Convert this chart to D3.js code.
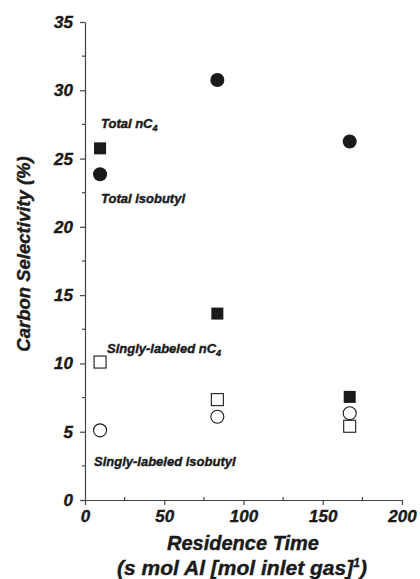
<!DOCTYPE html>
<html>
<head>
<meta charset="utf-8">
<script src="https://cdn.jsdelivr.net/npm/d3@7"></script>
<style>
  body { margin: 0; background: #fff; }
  svg text { font-family: "Liberation Sans", Arial, sans-serif; font-weight: bold; font-style: italic; fill: #1a1a1a; stroke: #1a1a1a; stroke-width: 0.4px; }
</style>
</head>
<body>
<svg id="chart" width="420" height="579"></svg>
<script>
// residence time columns
const residence = [9.5, 83.5, 167];

// carbon selectivity (%) per series
const totalNC4 = [25.75, 13.65, 7.55];
const totalIsobutyl = [23.85, 30.75, 26.25];
const singlyNC4 = [10.1, 7.35, 5.4];
const singlyIsobutyl = [5.1, 6.1, 6.35];

const xTicks = [0, 50, 100, 150, 200];
const yTicks = [0, 5, 10, 15, 20, 25, 30, 35];

const svg = d3.select("#chart");

const x = d3.scaleLinear().domain([0, 200]).range([85, 402]);
const y = d3.scaleLinear().domain([0, 35]).range([500, 22]);

// axes
const xAxis = svg.append("g").attr("transform", `translate(0,${y(0)})`)
    .call(d3.axisBottom(x).tickValues(xTicks).tickSize(5).tickSizeOuter(0).tickPadding(5).tickFormat(d3.format("d")));
const yAxis = svg.append("g").attr("transform", `translate(${x(0)},0)`)
    .call(d3.axisLeft(y).tickValues(yTicks).tickSize(5).tickSizeOuter(0).tickPadding(7).tickFormat(d3.format("d")));

[xAxis, yAxis].forEach(g => {
    g.select(".domain").attr("stroke", "#444").attr("stroke-width", 1.2);
    g.selectAll(".tick line").attr("stroke", "#444").attr("stroke-width", 1.2);
    g.selectAll(".tick text").style("font-size", "17px").attr("fill", "#1a1a1a");
});

// minor ticks
svg.append("g").selectAll("line")
    .data(d3.range(25, 200, 50))
    .enter().append("line")
    .attr("x1", d => x(d)).attr("x2", d => x(d))
    .attr("y1", y(0) - 3).attr("y2", y(0))
    .attr("stroke", "#444").attr("stroke-width", 1.2);
svg.append("g").selectAll("line")
    .data(d3.range(2.5, 35, 5))
    .enter().append("line")
    .attr("x1", x(0) - 3).attr("x2", x(0))
    .attr("y1", d => y(d)).attr("y2", d => y(d))
    .attr("stroke", "#444").attr("stroke-width", 1.2);

// markers
const squareSize = 12;
const radius = 7;

function squares(values, filled) {
    svg.append("g").selectAll("rect")
        .data(values.map((v, i) => ({ x: residence[i], y: v })))
        .enter().append("rect")
        .attr("x", d => x(d.x) - squareSize / 2)
        .attr("y", d => y(d.y) - squareSize / 2)
        .attr("width", squareSize).attr("height", squareSize)
        .attr("fill", filled ? "#1a1a1a" : "#fff")
        .attr("stroke", "#1a1a1a")
        .attr("stroke-width", filled ? 0 : 1.1);
}

function circles(values, filled) {
    svg.append("g").selectAll("circle")
        .data(values.map((v, i) => ({ x: residence[i], y: v })))
        .enter().append("circle")
        .attr("cx", d => x(d.x))
        .attr("cy", d => y(d.y))
        .attr("r", filled ? radius : radius - 0.5)
        .attr("fill", filled ? "#1a1a1a" : "#fff")
        .attr("stroke", "#1a1a1a")
        .attr("stroke-width", filled ? 0 : 1.1);
}

squares(totalNC4, true);
circles(totalIsobutyl, true);
squares(singlyNC4, false);
circles(singlyIsobutyl, false);

// series labels
function label(px, py, main, sub) {
    const t = svg.append("text").attr("x", px).attr("y", py).style("font-size", "13px");
    t.append("tspan").text(main);
    if (sub) t.append("tspan").attr("dy", 3).style("font-size", "9px").text(sub);
}
label(101, 128, "Total nC", "4");
label(101, 203, "Total isobutyl");
label(107, 353, "Singly-labeled nC", "4");
label(94, 466, "Singly-labeled isobutyl");

// axis titles
svg.append("text")
    .attr("x", 243).attr("y", 550)
    .attr("text-anchor", "middle")
    .style("font-size", "20px")
    .text("Residence Time");
const sub = svg.append("text")
    .attr("x", 242).attr("y", 575)
    .attr("text-anchor", "middle")
    .style("font-size", "21px");
sub.append("tspan").text("(s mol Al [mol inlet gas]");
sub.append("tspan").attr("dy", -8).style("font-size", "12px").text("1");
sub.append("tspan").attr("dy", 8).text(")");

svg.append("text")
    .attr("transform", "translate(30,254) rotate(-90)")
    .attr("text-anchor", "middle")
    .style("font-size", "18.5px")
    .text("Carbon Selectivity (%)");
</script>
</body>
</html>
